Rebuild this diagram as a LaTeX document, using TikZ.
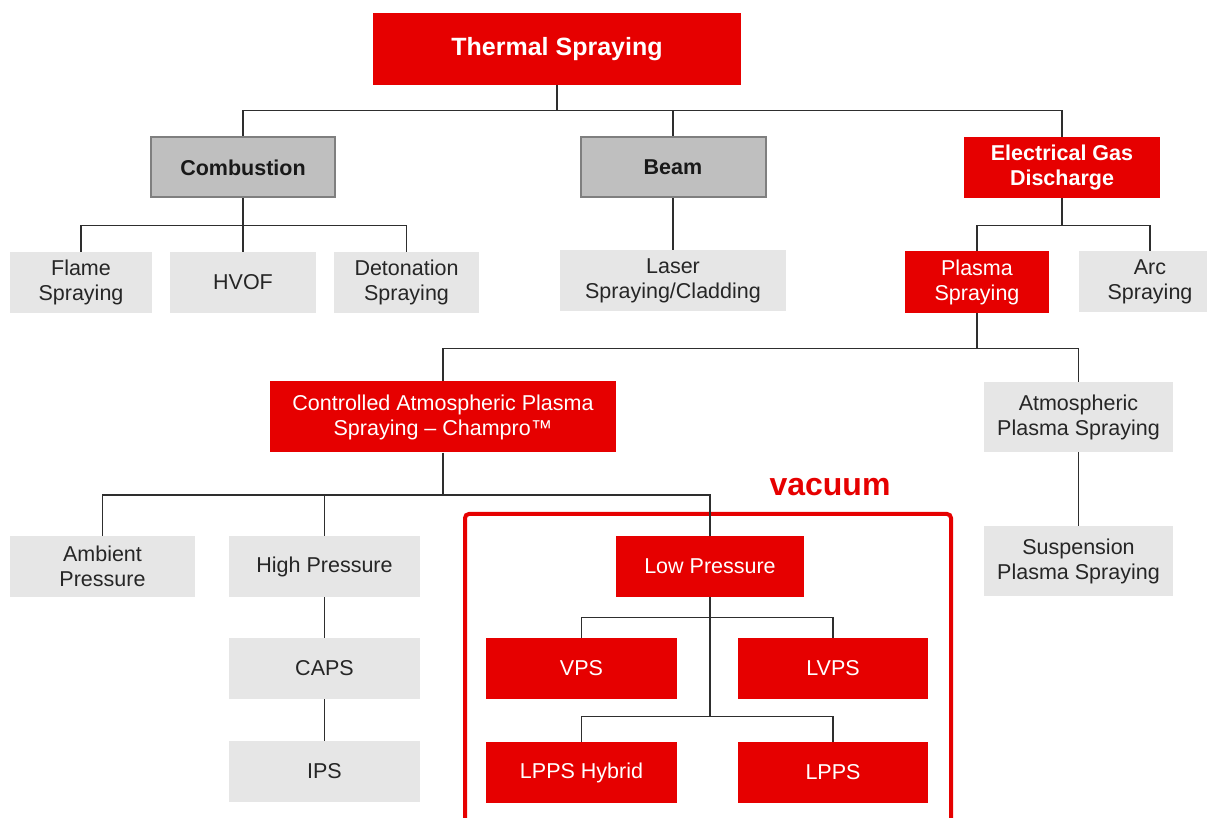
\documentclass[tikz,border=0pt]{standalone}
\usepackage{fontspec}
\setmainfont{Liberation Sans}
\usepackage{tikz}

\definecolor{tsred}{HTML}{E60000}
\definecolor{catgrey}{HTML}{BFBFBF}
\definecolor{catedge}{HTML}{7F7F7F}
\definecolor{leafgrey}{HTML}{E6E6E6}
\definecolor{wire}{HTML}{2E2E2E}

\tikzset{
    base/.style={inner sep=0pt, align=center, font=\fontsize{10.75}{12.5}\selectfont},
    redbox/.style={base, fill=tsred, text=white},
    catbox/.style={base, fill=catgrey, draw=catedge, line width=1pt, text=black!90, font=\fontsize{10.75}{12.5}\selectfont\bfseries},
    leafbox/.style={base, fill=leafgrey, text=black!85},
    conn/.style={draw=wire, line width=0.75pt},
}

\begin{document}
\begin{tikzpicture}[x=0.5pt, y=-0.5pt]
    \useasboundingbox (0,0) rectangle (1207,818);

    \node[redbox, minimum width=184pt, minimum height=36pt, font=\fontsize{12.5}{14}\selectfont\bfseries] (ts) at (557,49) {Thermal Spraying};

    \node[catbox, minimum width=92pt, minimum height=30pt] (comb) at (243,167.5) {Combustion};
    \node[catbox, minimum width=92.5pt, minimum height=30pt] (beam) at (673,167.5) {Beam};
    \node[redbox, minimum width=98pt, minimum height=30.5pt, font=\fontsize{10.75}{12.5}\selectfont\bfseries] (egd) at (1062,167.5) {Electrical Gas\\Discharge};

    \node[leafbox, minimum width=71pt, minimum height=30.5pt] (flame) at (81,282.5) {Flame\\Spraying};
    \node[leafbox, minimum width=73pt, minimum height=30.5pt] (hvof) at (243,282.5) {HVOF};
    \node[leafbox, minimum width=72.5pt, minimum height=30.5pt] (deto) at (406.5,282.5) {Detonation\\Spraying};
    \node[leafbox, minimum width=113pt, minimum height=30.5pt] (laser) at (673,281) {Laser\\Spraying/Cladding};
    \node[redbox, minimum width=72pt, minimum height=31pt] (plasma) at (977,282) {Plasma\\Spraying};
    \node[leafbox, minimum width=71pt, minimum height=30.5pt] (arc) at (1150,282) {Arc\\Spraying};

    \node[redbox, minimum width=173pt, minimum height=35.5pt] (champ) at (443,417) {Controlled Atmospheric Plasma\\Spraying -- Champro™};
    \node[leafbox, minimum width=94.5pt, minimum height=35pt] (aps) at (1078.5,417) {Atmospheric\\Plasma Spraying};
    \node[leafbox, minimum width=94.5pt, minimum height=35pt] (sps) at (1078.5,561) {Suspension\\Plasma Spraying};

    \node[leafbox, minimum width=92.5pt, minimum height=30.5pt] (amb) at (102.5,566.5) {Ambient\\Pressure};
    \node[leafbox, minimum width=95.5pt, minimum height=30.5pt] (hp) at (324.5,566.5) {High Pressure};
    \node[leafbox, minimum width=95.5pt, minimum height=30.5pt] (caps) at (324.5,668.5) {CAPS};
    \node[leafbox, minimum width=95.5pt, minimum height=30.5pt] (ips) at (324.5,771.5) {IPS};

    % vacuum chamber
    \draw[tsred, line width=2pt, rounded corners=2pt] (465,514) rectangle (951,840);
    \node[text=tsred, font=\fontsize{16}{18}\selectfont\bfseries] (vac) at (830,487) {vacuum};

    \node[redbox, minimum width=94pt, minimum height=30.5pt] (lp) at (710,566.5) {Low Pressure};
    \node[redbox, minimum width=95.5pt, minimum height=30.5pt] (vps) at (581.5,668.5) {VPS};
    \node[redbox, minimum width=95pt, minimum height=30.5pt] (lvps) at (833,668.5) {LVPS};
    \node[redbox, minimum width=95.5pt, minimum height=30.5pt] (hyb) at (581.5,772.5) {LPPS Hybrid};
    \node[redbox, minimum width=95pt, minimum height=30.5pt] (lpps) at (833,772.5) {LPPS};

    % tree lines
    \draw[conn] (ts.south) -- ++(0,25) -| (comb.north);
    \draw[conn] (ts.south) -- ++(0,25) -| (beam.north);
    \draw[conn] (ts.south) -- ++(0,25) -| (egd.north);

    \draw[conn] (comb.south) -- ++(0,27) -| (flame.north);
    \draw[conn] (comb.south) -- (hvof.north);
    \draw[conn] (comb.south) -- ++(0,27) -| (deto.north);
    \draw[conn] (beam.south) -- (laser.north);
    \draw[conn] (egd.south) -- ++(0,27) -| (plasma.north);
    \draw[conn] (egd.south) -- ++(0,27) -| (arc.north);

    \draw[conn] (plasma.south) -- ++(0,35) -| (champ.north);
    \draw[conn] (plasma.south) -- ++(0,35) -| (aps.north);
    \draw[conn] (aps.south) -- (sps.north);

    \draw[conn] (champ.south) -- ++(0,42) -| (amb.north);
    \draw[conn] (champ.south) -- ++(0,42) -| (hp.north);
    \draw[conn] (champ.south) -- ++(0,42) -| (lp.north);
    \draw[conn] (hp.south) -- (caps.north);
    \draw[conn] (caps.south) -- (ips.north);

    \draw[conn] (lp.south) -- ++(0,20) -| (vps.north);
    \draw[conn] (lp.south) -- ++(0,20) -| (lvps.north);
    \draw[conn] (lp.south) -- ++(0,119) -| (hyb.north);
    \draw[conn] (lp.south) -- ++(0,119) -| (lpps.north);
\end{tikzpicture}
\end{document}
